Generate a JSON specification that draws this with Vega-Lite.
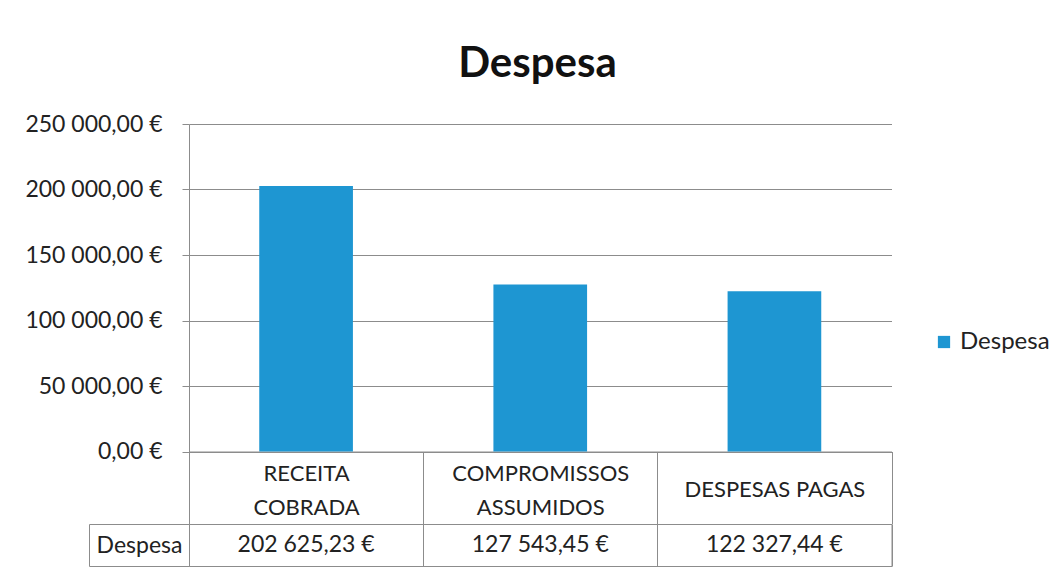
{
  "$schema": "https://vega.github.io/schema/vega-lite/v6.json",
  "background": "white",
  "padding": {"left": 24, "top": 43, "right": 10, "bottom": 5},
  "title": {"text": "Despesa", "font": "Lato", "fontSize": 42, "fontWeight": "bold", "color": "#111111", "anchor": "middle", "offset": 27},
  "config": {
    "locale": {"number": {"decimal": ",", "thousands": " ", "grouping": [3], "currency": ["", " €"]}},
    "view": {"stroke": null},
    "font": "Lato",
    "concat": {"spacing": -12}
  },
  "resolve": {"scale": {"x": "independent", "y": "independent"}},
  "datasets": {
    "despesa": [
      {"categoria": "RECEITA COBRADA", "valor": 202625.23, "serie": "Despesa"},
      {"categoria": "COMPROMISSOS ASSUMIDOS", "valor": 127543.45, "serie": "Despesa"},
      {"categoria": "DESPESAS PAGAS", "valor": 122327.44, "serie": "Despesa"}
    ]
  },
  "vconcat": [
    {
      "width": 702.5,
      "height": 327.5,
      "data": {"name": "despesa"},
      "mark": {"type": "bar", "width": {"band": 0.4}},
      "encoding": {
        "x": {
          "field": "categoria", "type": "nominal", "sort": null,
          "scale": {"paddingInner": 0, "paddingOuter": 0},
          "axis": {
            "title": null, "labelAngle": 0, "tickBand": "extent", "tickSize": 72,
            "tickColor": "#8c8c8c", "domainColor": "#8c8c8c", "grid": false,
            "labelPadding": {"condition": {"test": "datum.value == 'DESPESAS PAGAS'", "value": -34}, "value": -50},
            "labelBaseline": "middle", "labelLineHeight": 34, "labelLimit": 0,
            "labelFontSize": 22, "labelColor": "#222222", "labelFont": "Lato",
            "labelExpr": "!isValid(datum.value) ? '' : (datum.value == 'DESPESAS PAGAS' ? datum.value : split(datum.value, ' '))"
          }
        },
        "y": {
          "field": "valor", "type": "quantitative",
          "scale": {"domain": [0, 250000], "nice": false},
          "axis": {
            "title": null, "values": [0, 50000, 100000, 150000, 200000, 250000],
            "format": "$,.2f", "tickSize": 7, "labelPadding": 20, "labelFontSize": 23,
            "labelColor": "#222222", "labelFont": "Lato",
            "gridColor": "#8c8c8c", "tickColor": "#8c8c8c", "domainColor": "#8c8c8c"
          }
        },
        "color": {
          "field": "serie", "type": "nominal",
          "scale": {"range": ["#1e96d2"]},
          "legend": {
            "title": null, "orient": "none", "legendX": 743, "legendY": 206,
            "symbolType": "square", "symbolSize": 150, "symbolStrokeWidth": 0,
            "labelFontSize": 24, "labelColor": "#222222", "labelFont": "Lato"
          }
        }
      }
    },
    {
      "width": 702.5,
      "height": 42,
      "data": {"name": "despesa"},
      "view": {"stroke": "#8c8c8c"},
      "resolve": {"axis": {"y": "independent"}},
      "layer": [
        {
          "mark": {"type": "text", "font": "Lato", "fontSize": 23, "color": "#222222"},
          "encoding": {
            "x": {
              "field": "categoria", "type": "nominal", "sort": null,
              "scale": {"type": "band", "padding": 0},
              "axis": {"title": null, "labels": false, "ticks": false, "domain": false, "grid": true, "tickBand": "extent", "gridColor": "#8c8c8c"}
            },
            "y": {
              "field": "serie", "type": "nominal",
              "scale": {"type": "band", "padding": 0},
              "axis": {
                "title": null, "orient": "left", "tickBand": "extent", "tickSize": 100,
                "tickColor": "#8c8c8c", "domainColor": "#8c8c8c", "grid": false,
                "labelAlign": "center", "labelPadding": -50, "labelFontSize": 23,
                "labelColor": "#222222", "labelFont": "Lato"
              }
            },
            "text": {"field": "valor", "type": "quantitative", "format": "$,.2f"}
          }
        },
        {
          "mark": {"type": "point", "opacity": 0},
          "encoding": {
            "y": {
              "field": "serie", "type": "nominal",
              "scale": {"type": "band", "padding": 0},
              "axis": {"title": null, "orient": "left", "offset": 100, "domain": true, "ticks": false, "labels": false, "grid": false, "domainColor": "#8c8c8c"}
            }
          }
        }
      ]
    }
  ]
}
